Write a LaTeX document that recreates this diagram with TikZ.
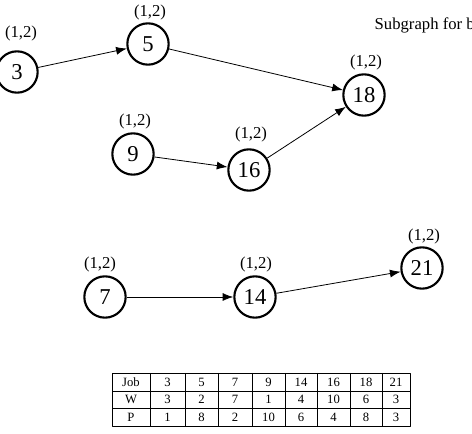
\documentclass[tikz,border=0pt]{standalone}
\usepackage{fontspec}
\setmainfont{Liberation Serif}
\usetikzlibrary{arrows.meta}

\begin{document}
\begin{tikzpicture}[x=0.75pt, y=-0.75pt, line join=round,
    job/.style={circle, draw, line width=1.6pt, minimum size=31pt, inner sep=0pt, font=\fontsize{17}{17}\selectfont},
    wt/.style={font=\fontsize{12.5}{12.5}\selectfont},
    arc/.style={-{Latex[length=8pt, width=6pt]}, line width=0.6pt},
    cell/.style={font=\fontsize{9.5}{9.5}\selectfont}]
  \useasboundingbox (0,0) rectangle (472,434);
  % jobs of the subgraph
  \node[job] (j3)  at (17,72)   {3};
  \node[job] (j5)  at (148,44)  {5};
  \node[job] (j18) at (364,95)  {18};
  \node[job] (j9)  at (133,154) {9};
  \node[job] (j16) at (249,170) {16};
  \node[job] (j7)  at (105,297) {7};
  \node[job] (j14) at (255,297) {14};
  \node[job] (j21) at (422,268) {21};
  % weights above the jobs
  \node[wt] (l3)  at (21,33)   {(1,2)};
  \node[wt] (l5)  at (150,12)  {(1,2)};
  \node[wt] (l18) at (366,62)  {(1,2)};
  \node[wt] (l9)  at (135,121) {(1,2)};
  \node[wt] (l16) at (251,134) {(1,2)};
  \node[wt] (l7)  at (100,264) {(1,2)};
  \node[wt] (l14) at (256,264) {(1,2)};
  \node[wt] (l21) at (424,236) {(1,2)};
  \node[wt, anchor=west] (title) at (370,25) {Subgraph for b};
  % precedence arcs
  \draw[arc] (j3) -- (j5);
  \draw[arc] (j5) -- (j18);
  \draw[arc] (j9) -- (j16);
  \draw[arc] (j16) -- (j18);
  \draw[arc] (j7) -- (j14);
  \draw[arc] (j14) -- (j21);
  % data table
  \draw[line width=0.5pt] (112,373) rectangle (410,426);
  \foreach \y in {391,408} \draw[line width=0.5pt] (112,\y) -- (410,\y);
  \foreach \x in {150,185,218,252,285,317,350,382} \draw[line width=0.5pt] (\x,373) -- (\x,426);
  \node[cell] (hJob) at (131,382) {Job};
  \node[cell] (hW)   at (131,399.5) {W};
  \node[cell] (hP)   at (131,417) {P};
  \foreach \x/\j/\w/\p [count=\i] in {167.5/3/3/1, 201.5/5/2/8, 235/7/7/2, 268.5/9/1/10,
      301/14/4/6, 333.5/16/10/4, 366/18/6/8, 396/21/3/3} {
    \node[cell] (job\i) at (\x,382)   {\j};
    \node[cell] (w\i)   at (\x,399.5) {\w};
    \node[cell] (p\i)   at (\x,417)   {\p};
  }
\end{tikzpicture}
\end{document}
